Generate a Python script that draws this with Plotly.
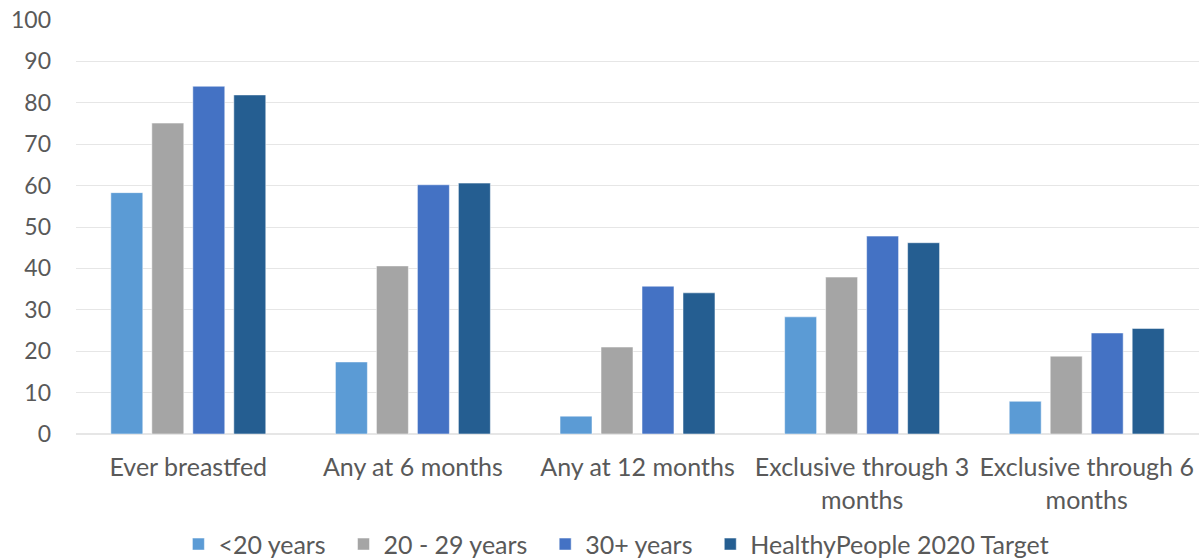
import plotly.graph_objects as go

categories = ["Ever breastfed", "Any at 6 months", "Any at 12 months",
              "Exclusive through 3<br>months", "Exclusive through 6<br>months"]
under20 = [58.3, 17.4, 4.3, 28.3, 7.9]
age20_29 = [75.1, 40.6, 21.0, 37.9, 18.8]
age30plus = [84.0, 60.2, 35.7, 47.8, 24.4]
hp2020_target = [81.9, 60.6, 34.1, 46.2, 25.5]

series = [
    ("<20 years", under20, "#5B9BD5"),
    ("20 - 29 years", age20_29, "#A5A5A5"),
    ("30+ years", age30plus, "#4472C4"),
    ("HealthyPeople 2020 Target", hp2020_target, "#255E91"),
]

# non-breaking padding widens the gap between legend entries
pad = "\u00a0\u00a0"

fig = go.Figure()
for name, vals, color in series:
    fig.add_trace(go.Bar(
        x=categories, y=vals, name=name + pad,
        marker=dict(color=color, line=dict(color="rgba(255,255,255,0.5)", width=1)),
    ))

font_family = "Lato, 'Open Sans', sans-serif"
text_color = "#595959"
fig.update_layout(
    width=1199, height=559,
    margin=dict(l=76, r=0, t=20, b=125, autoexpand=False),
    plot_bgcolor="white", paper_bgcolor="white",
    barmode="group", bargap=0.27, bargroupgap=0.22,
    font=dict(family=font_family, size=25, color=text_color),
    legend=dict(orientation="h", x=0.487, xanchor="center", y=-0.322, yanchor="bottom",
                font=dict(size=25, color=text_color), traceorder="normal",
                itemwidth=30),
    showlegend=True,
)
fig.update_yaxes(range=[0, 100], dtick=10, showgrid=True, gridcolor="#E6E6E6",
                 gridwidth=1, zeroline=True, zerolinecolor="#E6E6E6",
                 ticks="", ticklabelstandoff=24, automargin=False,
                 tickfont=dict(size=23, color=text_color))
fig.update_xaxes(showline=False, ticks="", ticklabelstandoff=16, automargin=False,
                 tickfont=dict(size=25, color=text_color))

fig.write_html("out.html")
